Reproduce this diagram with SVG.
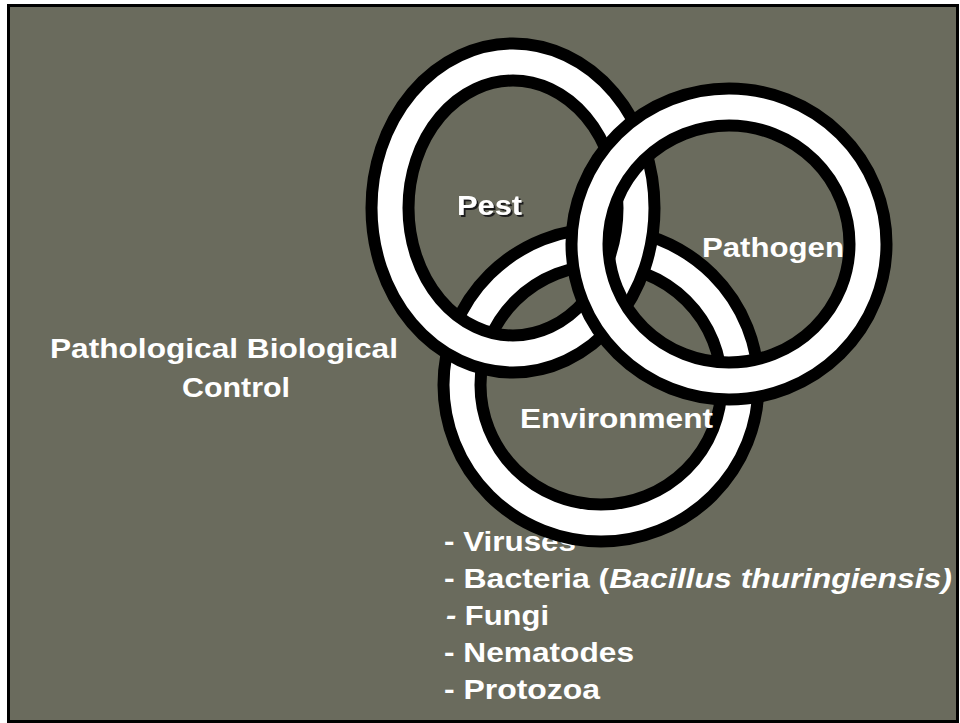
<svg xmlns="http://www.w3.org/2000/svg" width="960" height="723" viewBox="0 0 960 723">
<defs>
<style>
.bk{fill:none;stroke:#000;stroke-width:49}
.wt{fill:none;stroke:#fff;stroke-width:25}
.lbl{font-family:"Liberation Sans",Arial,sans-serif;font-weight:bold;font-size:28px;fill:#fff}
</style>
<filter id="shadow" x="-10%" y="-20%" width="130%" height="150%">
<feOffset in="SourceAlpha" dx="2" dy="2" result="o"/>
<feFlood flood-color="#1e1e1e"/>
<feComposite in2="o" operator="in" result="s"/>
<feMerge><feMergeNode in="s"/><feMergeNode in="SourceGraphic"/></feMerge>
</filter>
</defs>
<rect x="0" y="0" width="960" height="723" fill="#fff"/>
<rect id="frame" x="8.5" y="5.5" width="949" height="716" fill="#6a6b5d" stroke="#000" stroke-width="3"/>
<g id="title">
<text class="lbl" x="50" y="358" textLength="348" lengthAdjust="spacingAndGlyphs">Pathological Biological</text>
<text class="lbl" x="182" y="397" textLength="108" lengthAdjust="spacingAndGlyphs">Control</text>
</g>
<g id="list">
<text class="lbl" x="444" y="551" textLength="132" lengthAdjust="spacingAndGlyphs">- Viruses</text>
<text class="lbl" x="444" y="588" textLength="508" lengthAdjust="spacingAndGlyphs">- Bacteria (<tspan font-style="italic">Bacillus thuringiensis)</tspan></text>
<text class="lbl" x="446" y="625" textLength="103" lengthAdjust="spacingAndGlyphs"><tspan font-style="italic">-</tspan> Fungi</text>
<text class="lbl" x="444" y="662" textLength="190" lengthAdjust="spacingAndGlyphs">- Nematodes</text>
<text class="lbl" x="444" y="699" textLength="156" lengthAdjust="spacingAndGlyphs">- Protozoa</text>
</g>
<g id="ring-environment">
<ellipse class="bk" cx="601" cy="385" rx="139" ry="138"/>
<ellipse class="wt" cx="601" cy="385" rx="139" ry="138"/>
</g>
<g id="ring-pest">
<ellipse class="bk" cx="513" cy="208" rx="123" ry="146"/>
<ellipse class="wt" cx="513" cy="208" rx="123" ry="146"/>
</g>
<g id="ring-pathogen">
<ellipse class="bk" cx="729" cy="244" rx="139" ry="137"/>
<ellipse class="wt" cx="729" cy="244" rx="139" ry="137"/>
</g>
<g id="node-pest">
<text class="lbl" x="457" y="215" textLength="65" lengthAdjust="spacingAndGlyphs" filter="url(#shadow)">Pest</text>
</g>
<g id="node-pathogen">
<text class="lbl" x="702" y="257" textLength="142" lengthAdjust="spacingAndGlyphs">Pathogen</text>
</g>
<g id="node-environment">
<text class="lbl" x="520" y="428" textLength="193" lengthAdjust="spacingAndGlyphs">Environment</text>
</g>
</svg>
